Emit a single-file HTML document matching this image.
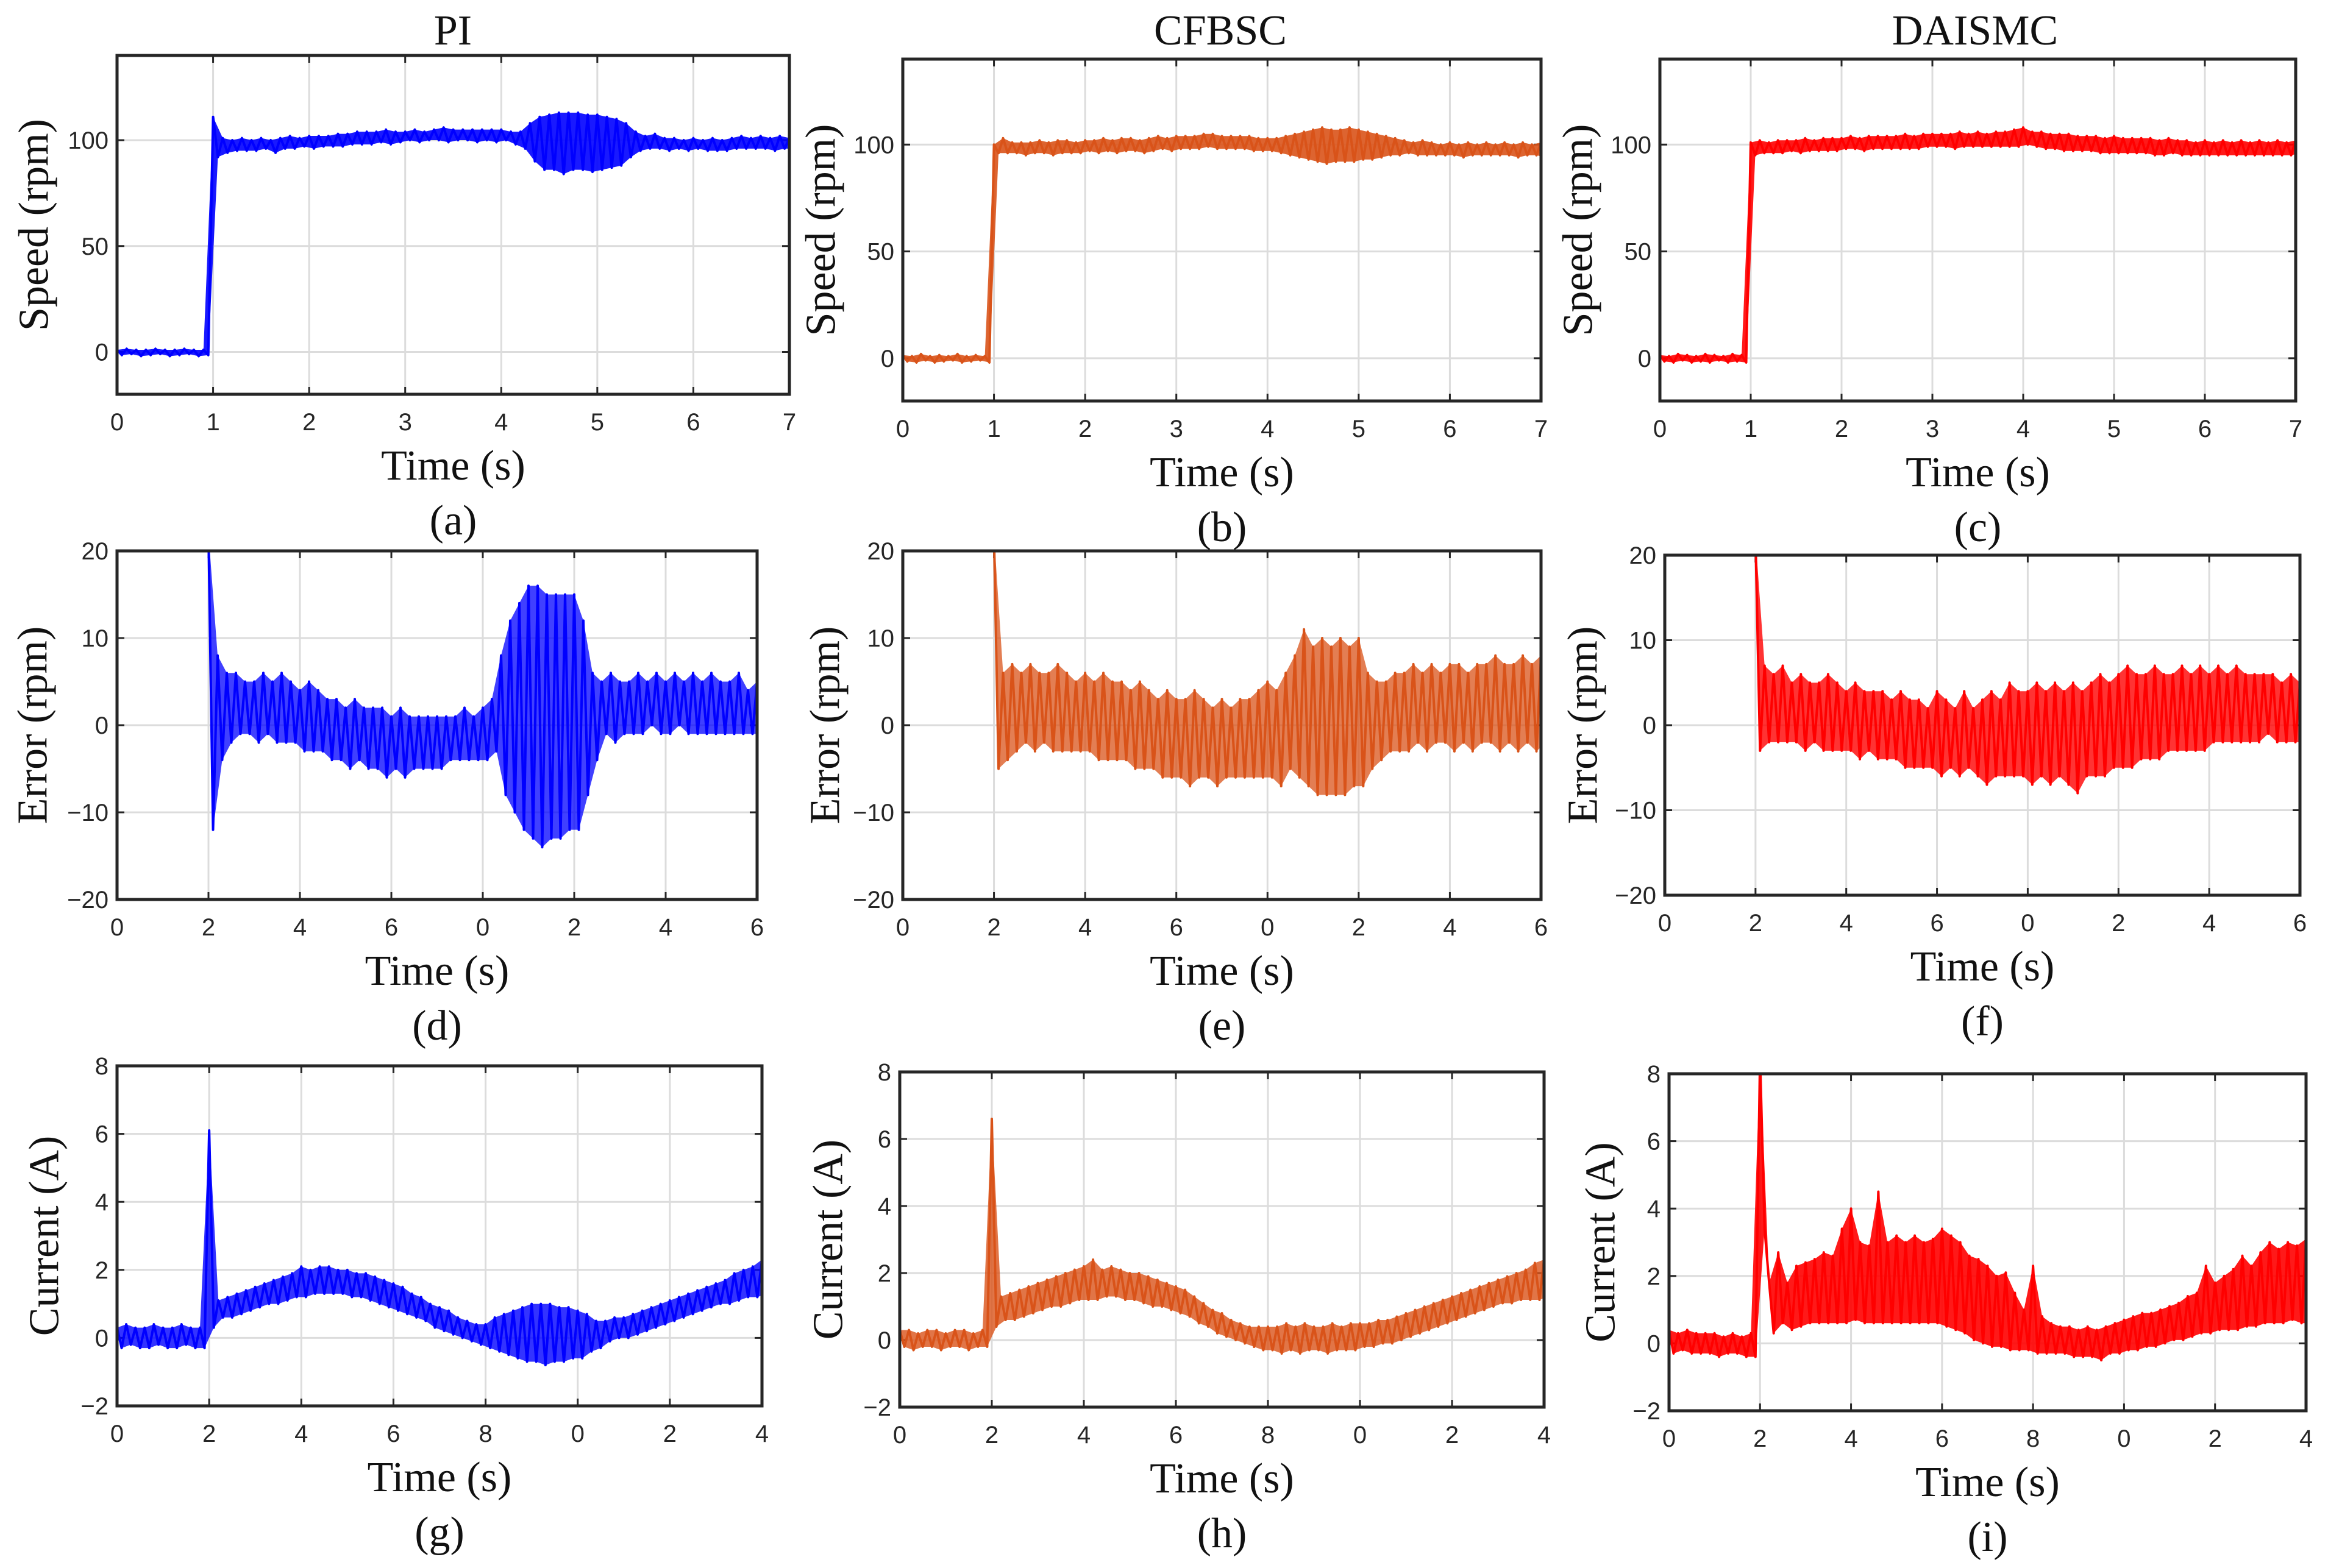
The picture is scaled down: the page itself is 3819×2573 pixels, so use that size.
<!DOCTYPE html>
<html><head><meta charset="utf-8"><style>
html,body{margin:0;padding:0;background:#fff}
svg{display:block}
.tk{font-family:"Liberation Sans",sans-serif;font-size:40px;fill:#262626}
.lb{font-family:"Liberation Serif",serif;font-size:70px;fill:#111}
</style></head><body>
<svg id="fig" width="3819" height="2573" viewBox="0 0 3819 2573" xmlns="http://www.w3.org/2000/svg">
<text class="lb" x="743" y="73" text-anchor="middle" font-size="66">PI</text>
<text class="lb" x="2002" y="73" text-anchor="middle" font-size="66">CFBSC</text>
<text class="lb" x="3240" y="73" text-anchor="middle" font-size="66">DAISMC</text>
</svg>
<script>
// ---- data (hi/lo envelopes, uniform steps) ----
const speedTicks=[0,50,100];
const errTicks=[-20,-10,0,10,20];
const curTicks=[-2,0,2,4,6,8];
const speedXLabels=["0","1","2","3","4","5","6","7"];
const errXLabels=["0","2","4","6","0","2","4","6"];
const curXLabels=["0","2","4","6","8","0","2","4"];

const piSpeedHi=[1,1.5,1,1,1.5,1,1,1.5,1,1,111,101,100,101,100,101,100,101,102,101,102,102,102,103,103,104,104,104,105,104,104,105,104,105,106,105,105,105,105,105,105,104,104,108,111,112,113,113,113,112,112,111,110,108,104,102,103,101,101,100,101,100,101,100,101,102,101,102,101,102,101];
const piSpeedLo=[-1.5,-1,-2,-1.5,-1,-2,-1.5,-1,-2,-1.5,92,94,95,95,95,96,94,96,96,97,96,97,97,97,98,98,98,99,98,99,100,99,100,100,99,100,100,99,100,99,100,98,96,90,86,86,84,86,86,85,86,87,88,92,95,96,96,95,96,95,96,95,95,95,96,96,96,96,95,96,96];
const cfSpeedHi=[1.5,1,2,1,1.5,1,2,1,1.5,1,100,103,101,101,101,102,101,102,102,101,102,102,103,102,103,103,102,103,104,103,104,104,104,105,105,104,104,104,104,103,103,103,104,105,106,107,108,107,107,108,107,106,105,104,103,102,101,102,101,100,101,100,101,100,101,100,101,100,101,100,101];
const cfSpeedLo=[-1.5,-2,-1,-2,-1.5,-1,-2,-1.5,-1,-2,96,96,96,95,96,96,95,96,96,96,97,96,97,96,97,97,96,97,98,97,98,98,98,99,98,98,98,98,97,97,97,96,95,94,93,92,91,92,92,92,93,93,94,95,95,96,95,95,95,95,95,94,95,95,95,95,95,94,95,95,94];
const daSpeedHi=[1.5,1,2,1.5,1,2,1.5,1,2,1.5,101,102,101,102,102,102,103,102,103,103,103,104,103,104,104,104,104,105,104,105,105,105,105,106,105,106,105,106,106,107,108,106,106,105,105,105,104,104,104,103,104,103,103,103,103,102,103,102,102,101,102,101,102,101,102,101,102,101,102,101,102];
const daSpeedLo=[-1.5,-2,-1,-2,-1.5,-2,-1,-2,-1.5,-2,95,96,96,96,97,96,97,97,97,97,98,98,97,98,98,98,98,98,98,99,99,99,98,99,99,99,99,99,99,99,100,99,98,98,97,97,97,97,96,96,96,96,96,96,95,95,96,95,95,95,95,95,95,95,95,95,95,95,95,95,96];

const N10=[null,null,null,null,null,null,null,null,null,null];
const piErrHi=N10.concat([22,8,6,6,5,5,6,5,6,5,4,5,4,3,3,2,3,2,2,2,1,2,1,1,1,1,1,1,2,1,2,3,8,12,14,16,16,15,15,15,15,12,6,5,6,5,5,6,5,6,5,6,5,6,5,6,5,5,6,4,5]);
const piErrLo=N10.concat([-12,-4,-2,-1,-1,-2,-1,-2,-2,-2,-3,-3,-3,-4,-4,-5,-4,-5,-5,-6,-5,-6,-5,-5,-5,-5,-4,-4,-4,-4,-4,-3,-8,-10,-12,-13,-14,-13,-13,-12,-12,-8,-4,-1,-2,-1,-1,-1,0,-1,-1,0,-1,-1,-1,-1,-1,-1,-1,-1,-1]);
const cfErrHi=N10.concat([22,6,7,6,7,6,6,7,6,5,6,5,6,5,5,4,5,4,3,4,3,3,4,3,2,3,2,3,3,4,5,4,6,8,11,9,10,9,10,9,10,6,5,5,6,6,7,6,7,6,7,7,6,7,7,8,7,7,8,7,8]);
const cfErrLo=N10.concat([-5,-4,-3,-2,-3,-2,-3,-3,-3,-3,-3,-4,-4,-4,-4,-5,-5,-5,-6,-6,-6,-7,-6,-6,-7,-6,-6,-6,-6,-6,-6,-7,-5,-6,-7,-8,-8,-8,-8,-7,-7,-5,-4,-3,-3,-3,-2,-3,-2,-2,-3,-2,-3,-2,-2,-3,-2,-3,-2,-3,-2]);
const daErrHi=N10.concat([22,7,6,7,5,6,5,5,6,5,4,5,4,4,4,3,4,3,3,2,4,3,2,4,2,3,4,3,5,4,4,5,4,5,4,5,4,5,6,5,6,7,6,6,7,6,6,7,6,7,6,7,6,7,6,6,6,6,5,6,5]);
const daErrLo=N10.concat([-3,-2,-2,-2,-2,-3,-2,-3,-3,-3,-3,-4,-3,-4,-4,-4,-5,-5,-5,-5,-6,-5,-6,-5,-6,-7,-6,-6,-6,-6,-7,-6,-7,-6,-7,-8,-6,-6,-6,-5,-5,-5,-4,-4,-4,-3,-3,-3,-3,-3,-2,-2,-2,-2,-2,-2,-1,-2,-2,-2,-2]);

const piCurHi=[.3,.4,.3,.3,.4,.3,.3,.4,.3,.3,6.1,1.1,1.2,1.3,1.4,1.5,1.6,1.7,1.8,1.9,2.1,2.0,2.1,2.1,2.0,2.0,1.9,1.9,1.8,1.7,1.6,1.5,1.3,1.2,1.0,0.9,0.8,0.6,0.5,0.4,0.4,0.6,0.7,0.8,0.9,1.0,1.0,1.0,0.9,0.9,0.8,0.7,0.5,.5,.6,.6,.7,.8,.9,1.0,1.1,1.2,1.3,1.4,1.5,1.6,1.7,1.9,2.0,2.1,2.3];
const piCurLo=[-.3,-.2,-.3,-.3,-.2,-.3,-.3,-.2,-.3,-.3,.3,.6,.6,.7,.8,.9,1.0,1.0,1.1,1.2,1.2,1.3,1.3,1.3,1.3,1.2,1.2,1.1,1.0,0.9,0.8,0.7,0.6,0.5,0.3,0.2,0.1,0.0,-0.1,-0.2,-0.3,-0.4,-0.5,-0.6,-0.7,-0.7,-0.8,-0.7,-0.7,-0.6,-0.6,-0.4,-0.3,-.1,0,0,.1,.2,.3,.4,.5,.6,.7,.8,.9,1.0,1.0,1.1,1.2,1.2,1.3];
const cfCurHi=[.3,.3,.2,.3,.3,.2,.3,.3,.2,.3,6.6,1.3,1.4,1.5,1.6,1.7,1.8,1.9,2.0,2.1,2.2,2.4,2.1,2.2,2.1,2.0,2.0,1.9,1.8,1.7,1.6,1.5,1.3,1.1,0.9,0.8,0.6,0.5,0.4,0.4,0.4,.4,.5,.4,.5,.4,.4,.5,.4,.5,.5,.5,.6,.6,.7,.8,.9,1.0,1.1,1.2,1.3,1.4,1.5,1.6,1.7,1.8,1.9,2.0,2.1,2.3,2.4];
const cfCurLo=[-.2,-.3,-.2,-.2,-.3,-.2,-.2,-.3,-.2,-.2,.4,.6,.6,.7,.8,.9,1.0,1.0,1.1,1.2,1.2,1.2,1.3,1.3,1.2,1.2,1.1,1.0,1.0,0.9,0.8,0.7,0.5,0.4,0.2,0.1,0.0,-0.1,-0.2,-0.3,-0.3,-.4,-.3,-.4,-.3,-.3,-.4,-.3,-.3,-.3,-.2,-.2,-.1,-.1,0,.1,.2,.3,.4,.5,.6,.7,.8,.9,1.0,1.1,1.1,1.2,1.2,1.2,1.3];
const daCurHi=[.4,.3,.4,.3,.3,.3,.2,.3,.2,.3,8.5,1.8,2.7,1.8,2.3,2.4,2.5,2.7,2.6,3.4,4.0,3.0,2.9,4.5,3.0,3.2,3.0,3.2,3.0,3.1,3.4,3.2,3.0,2.6,2.5,2.3,2.0,2.1,1.5,1.0,2.3,.8,.6,.5,.5,.4,.5,.4,.5,.6,.7,.8,.9,.9,1.0,1.1,1.2,1.4,1.5,2.3,1.8,2.0,2.2,2.6,2.3,2.7,3.0,2.8,3.0,2.9,3.1];
const daCurLo=[-.3,-.2,-.3,-.3,-.3,-.4,-.3,-.3,-.4,-.4,3.4,.3,.6,.4,.5,.6,.6,.6,.6,.6,.7,.6,.6,.6,.6,.6,.6,.6,.6,.6,.5,.4,.3,.1,0,-.1,-.1,-.2,-.2,-.2,-.3,-.3,-.3,-.3,-.4,-.4,-.4,-.5,-.3,-.3,-.2,-.2,-.1,-.1,0,.1,.1,.2,.3,.3,.4,.4,.4,.5,.5,.6,.6,.6,.7,.6,.6];

const BLUE='#0000ff', ORANGE='#d95319', RED='#ff0000';
const panels=[
 {id:'a',L:192,R:1295,T:91,B:647,xmax:7,dt:0.1,ymin:-20,ymax:140,yt:speedTicks,xl:speedXLabels,xstep:1,hi:piSpeedHi,lo:piSpeedLo,c:BLUE,yl:'Speed (rpm)',yo:136,op:0.9},
 {id:'b',L:1481,R:2528,T:97,B:658,xmax:7,dt:0.1,ymin:-20,ymax:140,yt:speedTicks,xl:speedXLabels,xstep:1,hi:cfSpeedHi,lo:cfSpeedLo,c:ORANGE,yl:'Speed (rpm)',yo:134,op:0.9},
 {id:'c',L:2723,R:3766,T:97,B:658,xmax:7,dt:0.1,ymin:-20,ymax:140,yt:speedTicks,xl:speedXLabels,xstep:1,hi:daSpeedHi,lo:daSpeedLo,c:RED,yl:'Speed (rpm)',yo:134,op:0.9},
 {id:'d',L:192,R:1242,T:904,B:1476,xmax:14,dt:0.2,ymin:-20,ymax:20,yt:errTicks,xl:errXLabels,xstep:2,hi:piErrHi,lo:piErrLo,c:BLUE,yl:'Error (rpm)',yo:138,op:0.75},
 {id:'e',L:1481,R:2528,T:904,B:1476,xmax:14,dt:0.2,ymin:-20,ymax:20,yt:errTicks,xl:errXLabels,xstep:2,hi:cfErrHi,lo:cfErrLo,c:ORANGE,yl:'Error (rpm)',yo:127,op:0.75},
 {id:'f',L:2731,R:3773,T:911,B:1469,xmax:14,dt:0.2,ymin:-20,ymax:20,yt:errTicks,xl:errXLabels,xstep:2,hi:daErrHi,lo:daErrLo,c:RED,yl:'Error (rpm)',yo:134,op:0.8},
 {id:'g',L:192,R:1250,T:1749,B:2307,xmax:14,dt:0.2,ymin:-2,ymax:8,yt:curTicks,xl:curXLabels,xstep:2,hi:piCurHi,lo:piCurLo,c:BLUE,yl:'Current (A)',yo:119,op:0.8},
 {id:'h',L:1476,R:2533,T:1759,B:2309,xmax:14,dt:0.2,ymin:-2,ymax:8,yt:curTicks,xl:curXLabels,xstep:2,hi:cfCurHi,lo:cfCurLo,c:ORANGE,yl:'Current (A)',yo:117,op:0.8},
 {id:'i',L:2738,R:3783,T:1762,B:2315,xmax:14,dt:0.2,ymin:-2,ymax:8,yt:curTicks,xl:curXLabels,xstep:2,hi:daCurHi,lo:daCurLo,c:RED,yl:'Current (A)',yo:112,op:0.9}
];
const NS='http://www.w3.org/2000/svg';
const svg=document.getElementById('fig');
function mk(tag,attrs,parent){const e=document.createElementNS(NS,tag);for(const k in attrs)e.setAttribute(k,attrs[k]);(parent||svg).appendChild(e);return e;}
panels.forEach(p=>{
 const g=mk('g',{});
 
 
 const X=v=>p.L+(v/p.xmax)*(p.R-p.L);
 const Y=v=>p.B-(v-p.ymin)/(p.ymax-p.ymin)*(p.B-p.T);
 // grid
 for(let i=0;i<p.xl.length;i++){const x=X(i*p.xstep);
  const gl=mk('line',{x1:x,x2:x,y1:p.T,y2:p.B,stroke:'#dcdcdc','stroke-width':3},g);
  
  
  mk('line',{x1:x,x2:x,y1:p.B,y2:p.B-12,stroke:'#262626','stroke-width':3},g);
  mk('line',{x1:x,x2:x,y1:p.T,y2:p.T+12,stroke:'#262626','stroke-width':3},g);
  const t=mk('text',{class:'tk',x:x,y:p.B+59,'text-anchor':'middle'},g);t.textContent=p.xl[i];
  
  
 }
 p.yt.forEach(v=>{const y=Y(v);
  const gl=mk('line',{x1:p.L,x2:p.R,y1:y,y2:y,stroke:'#dcdcdc','stroke-width':3},g);
  
  
  mk('line',{x1:p.L,x2:p.L+12,y1:y,y2:y,stroke:'#262626','stroke-width':3},g);
  mk('line',{x1:p.R,x2:p.R-12,y1:y,y2:y,stroke:'#262626','stroke-width':3},g);
  const t=mk('text',{class:'tk',x:p.L-14,y:y+14,'text-anchor':'end'},g);t.textContent=(v<0?'\u2212'+(-v):v);
  
  
 });
 // clip
 const cp=mk('clipPath',{id:'clip'+p.id},g);mk('rect',{x:p.L,y:p.T,width:p.R-p.L,height:p.B-p.T},cp);
 // series
 let top=[],bot=[],zig=[];
 for(let i=0;i<p.hi.length;i++){if(p.hi[i]==null)continue;
  const t=i*p.dt;
  top.push([X(t),Y(p.hi[i])]);bot.push([X(t+p.dt/2),Y(p.lo[i])]);
  zig.push(X(t)+','+Y(p.hi[i]));zig.push(X(Math.min(t+p.dt/2,p.xmax))+','+Y(p.lo[i]));
 }
 const poly=top.map(q=>q.join(',')).concat(bot.reverse().map(q=>q.join(',')));
 const band=mk('polygon',{points:poly.join(' '),fill:p.c,'fill-opacity':p.op,'clip-path':'url(#clip'+p.id+')'},g);
 
 
 const ln=mk('polyline',{points:zig.join(' '),fill:'none',stroke:p.c,'stroke-width':4,'stroke-linejoin':'round','clip-path':'url(#clip'+p.id+')'},g);
 
 
 // box
 const bx=mk('rect',{x:p.L,y:p.T,width:p.R-p.L,height:p.B-p.T,fill:'none',stroke:'#262626','stroke-width':5},g);
 
 
 const cx=(p.L+p.R)/2;
 const xt=mk('text',{class:'lb',x:cx,y:p.B+140,'text-anchor':'middle'},g);xt.textContent='Time (s)';
 
 
 const sl=mk('text',{class:'lb',x:cx,y:p.B+230,'text-anchor':'middle'},g);sl.textContent='('+p.id+')';
 
 
 const yx=p.L-p.yo, yy=(p.T+p.B)/2;
 const yt=mk('text',{class:'lb',x:yx,y:yy,'text-anchor':'middle','dominant-baseline':'central',transform:'rotate(-90 '+yx+' '+yy+')'},g);yt.textContent=p.yl;
 
 
});
</script>
</body></html>
